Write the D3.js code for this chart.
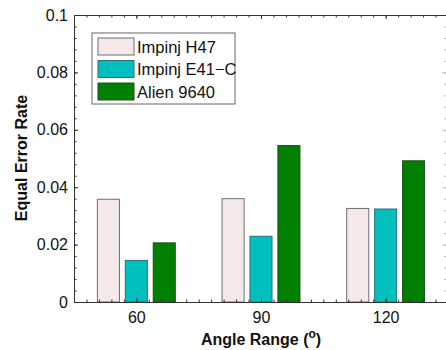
<!DOCTYPE html>
<html>
  <head>
    <meta charset="utf-8">
    <title></title>
    <script type="text/javascript" src="https://d3js.org/d3.v7.min.js"></script>
    <style media="screen">
      body { margin: 0; background: #fff; }
      text { font-family: "Liberation Sans", Arial, sans-serif; }
    </style>
  </head>
  <body>

    <div class="vis"></div>

    <script type="text/javascript">

      var categories = ["60", "90", "120"];
      var seriesNames = ["Impinj H47", "Impinj E41\u2212C", "Alien 9640"];
      var h47 = [0.0358, 0.0360, 0.0326];
      var e41 = [0.0145, 0.0229, 0.0324];
      var alien = [0.0206, 0.0545, 0.0492];
      var yTicks = [0, 0.02, 0.04, 0.06, 0.08, 0.1];

      var series = [h47, e41, alien];
      var fills = ["#f4e9e8", "#00bfbf", "#007f00"];
      var strokes = ["#6e6e6e", "#2f6f6f", "#1f4f1f"];

      var w = 446;
      var h = 350;
      // note: "top" is taken by window.top, so use pad* names
      var padL = 74, padR = 448, padT = 15, padB = 302;

      var svg = d3.select('.vis')
        .append('svg')
        .attr('width', w)
        .attr('height', h);

      // x is numeric like the original (groups at 1,2,3)
      var xscale = d3.scaleLinear()
        .domain([0.5, 3.5])
        .range([padL, padR]);

      var yscale = d3.scaleLinear()
        .domain([0, 0.1])
        .range([padB, padT]);

      var barW = 0.177;
      var barStep = 0.224;

      series.forEach(function(vals, s) {
        svg.selectAll('rect.s' + s)
          .data(vals)
          .enter()
          .append('rect')
          .attr('class', 's' + s)
          .attr('x', function(d, i) {
            return xscale(i + 1 + (s - 1) * barStep - barW / 2);
          })
          .attr('width', xscale(barW) - xscale(0))
          .attr('y', function(d) { return yscale(d); })
          .attr('height', function(d) { return yscale(0) - yscale(d); })
          .attr('fill', fills[s])
          .attr('stroke', strokes[s])
          .attr('stroke-width', 1);
      });

      var minorY = d3.range(0, 0.1001, 0.004);
      var minorX = d3.range(0.6, 3.45, 0.1);

      function addAxis(axis, tx, ty, cls, col) {
        col = col || '#333';
        var g = svg.append('g')
          .attr('class', cls)
          .attr('transform', 'translate(' + tx + ',' + ty + ')')
          .call(axis);
        g.select('.domain').attr('stroke', col);
        g.selectAll('.tick line').attr('stroke', col);
        return g;
      }

      // minor ticks
      addAxis(d3.axisLeft(yscale).tickValues(minorY).tickSize(-2.5).tickFormat(''), padL, 0, 'y minor');
      addAxis(d3.axisRight(yscale).tickValues(minorY).tickSize(-2.5).tickFormat(''), padR - 1.5, 0, 'y2 minor', '#bbb');
      addAxis(d3.axisBottom(xscale).tickValues(minorX).tickSize(-2.5).tickFormat(''), 0, padB, 'x minor');
      addAxis(d3.axisTop(xscale).tickValues(minorX).tickSize(-2.5).tickFormat(''), 0, padT, 'x2 minor');

      // major ticks
      var yAxis = d3.axisLeft(yscale)
        .tickValues(yTicks)
        .tickSize(-4)
        .tickPadding(6)
        .tickFormat(function(d) { return d === 0 ? '0' : String(+d.toFixed(2)); });

      var gy = addAxis(yAxis, padL, 0, 'y axis');
      gy.selectAll('text')
        .attr('font-size', 16)
        .attr('fill', '#111');

      addAxis(d3.axisRight(yscale).tickValues(yTicks).tickSize(-4).tickFormat(''), padR - 1.5, 0, 'y2 axis', '#bbb');

      var xAxis = d3.axisBottom(xscale)
        .tickValues([1, 2, 3])
        .tickSize(-4)
        .tickPadding(10)
        .tickFormat(function(d) { return categories[d - 1]; });

      var gx = addAxis(xAxis, 0, padB, 'x axis');
      gx.selectAll('text')
        .attr('font-size', 16)
        .attr('fill', '#111');

      addAxis(d3.axisTop(xscale).tickValues([1, 2, 3]).tickSize(-4).tickFormat(''), 0, padT, 'x2 axis');

      // axis titles
      svg.append("text")
        .attr("transform", "translate(27," + 158 + ")rotate(-90)")
        .attr("text-anchor", "middle")
        .attr("font-size", 16)
        .attr("font-weight", "bold")
        .attr("fill", "#111")
        .text("Equal Error Rate");

      var xt = svg.append('text')
        .attr('transform', "translate(261,345)")
        .attr('text-anchor', 'middle')
        .attr("font-size", 16)
        .attr("font-weight", "bold")
        .attr("fill", "#111");
      xt.append('tspan').text('Angle Range (');
      xt.append('tspan').attr('dy', -7).attr('font-size', 12).text('o');
      xt.append('tspan').attr('dy', 7).text(')');

      // legend
      var lg = svg.append('g').attr('transform', 'translate(92,33)');
      lg.append('rect')
        .attr('width', 143)
        .attr('height', 71)
        .attr('fill', '#fff')
        .attr('stroke', '#666');

      seriesNames.forEach(function(name, i) {
        lg.append('rect')
          .attr('x', 6)
          .attr('y', 5 + i * 22.5)
          .attr('width', 36)
          .attr('height', 17)
          .attr('fill', fills[i])
          .attr('stroke', strokes[i]);
        lg.append('text')
          .attr('x', 45)
          .attr('y', 19.5 + i * 22.5)
          .attr('font-size', 16.5)
          .attr('fill', '#111')
          .text(name);
      });

    </script>

  </body>
</html>
